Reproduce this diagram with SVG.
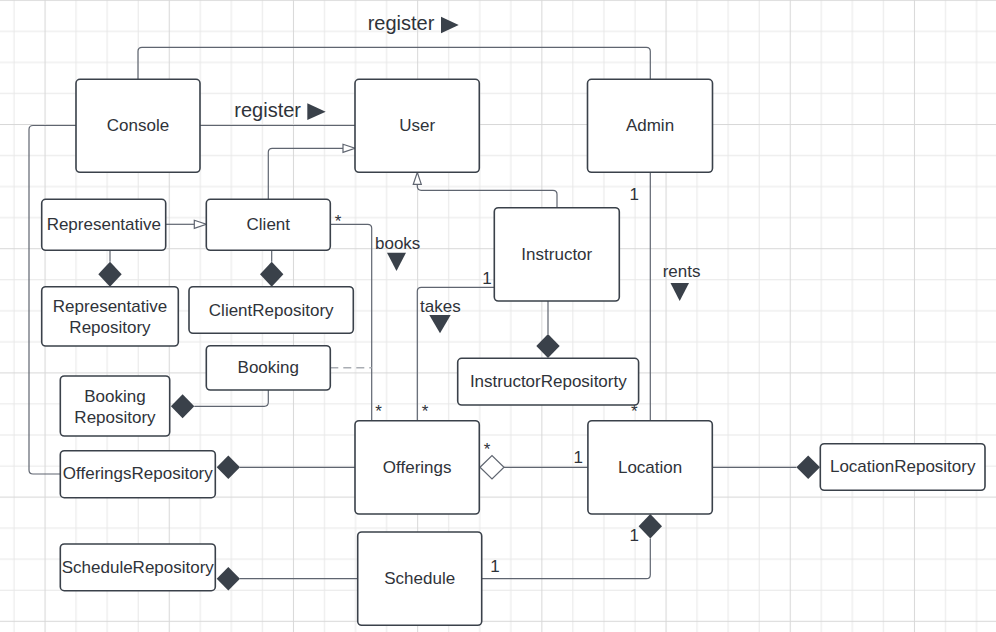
<svg xmlns="http://www.w3.org/2000/svg" width="996" height="632" viewBox="0 0 996 632">
<defs>
<pattern id="grid" x="44.55" y="-0.2" width="124.2" height="124.2" patternUnits="userSpaceOnUse">
<rect width="124.2" height="124.2" fill="#ffffff"/>
<g fill="#e8e8e8">
<rect x="31.05" y="0" width="1" height="124.2"/><rect x="62.1" y="0" width="1" height="124.2"/><rect x="93.15" y="0" width="1" height="124.2"/>
<rect x="0" y="31.05" width="124.2" height="1"/><rect x="0" y="62.1" width="124.2" height="1"/><rect x="0" y="93.15" width="124.2" height="1"/>
</g>
<g fill="#d8d8d8"><rect x="0" y="0" width="1" height="124.2"/><rect x="0" y="0" width="124.2" height="1"/></g>
</pattern>
<style>
.box{fill:#ffffff;stroke:#3a414a;stroke-width:1.6}
.lbl{font-family:"Liberation Sans",Arial,sans-serif;font-size:17px;fill:#2f333a;text-anchor:middle}
.big{font-family:"Liberation Sans",Arial,sans-serif;font-size:20px;fill:#2f333a}
.tag{font-family:"Liberation Sans",Arial,sans-serif;font-size:17px;fill:#2f333a}
.con{fill:none;stroke:#5f6570;stroke-width:1.2}
.dash{fill:none;stroke:#a9adb3;stroke-width:1.5;stroke-dasharray:8 5}
.dia{fill:#3a414a}
.hol{fill:#ffffff;stroke:#5f6570;stroke-width:1.2}
.tri{fill:#3a414a}
</style>
</defs>
<rect width="996" height="632" fill="url(#grid)"/>

<g id="connectors">
<path class="con" d="M138,79.3 V51.3 Q138,47.3 142,47.3 H646.3 Q650.3,47.3 650.3,51.3 V79.3"/>
<path class="con" d="M200,125.5 H355"/>
<path class="con" d="M76,125.5 H33 Q29,125.5 29,129.5 V470 Q29,474 33,474 H60.3"/>
<path class="con" d="M268.3,199.3 V152.3 Q268.3,148.3 272.3,148.3 H343"/>
<polygon class="hol" points="343,144.3 355,148.3 343,152.3"/>
<path class="con" d="M557,207.7 V194.3 Q557,190.3 553,190.3 H421.3 Q417.3,190.3 417.3,186.3 V184.3"/>
<polygon class="hol" points="413.3,184.3 417.3,172.3 421.3,184.3"/>
<path class="con" d="M165.7,224.3 H194.3"/>
<polygon class="hol" points="194.3,220.3 206.3,224.3 194.3,228.3"/>
<path class="con" d="M110,250.3 V261.7"/>
<polygon class="dia" points="110,261.7 121.7,274.2 110,286.7 98.3,274.2"/>
<path class="con" d="M271.7,250.3 V261.7"/>
<polygon class="dia" points="271.7,261.7 283.4,274.2 271.7,286.7 260,274.2"/>
<path class="con" d="M330.3,224.3 H367.7 Q371.7,224.3 371.7,228.3 V420.7"/>
<path class="dash" d="M330.3,367.7 H371.7"/>
<path class="con" d="M268.3,390 V402.3 Q268.3,406.3 264.3,406.3 H194.3"/>
<polygon class="dia" points="194.3,406.3 182.6,418.3 170.9,406.3 182.6,394.3"/>
<path class="con" d="M494.3,287.3 H421.3 Q417.3,287.3 417.3,291.3 V420.7"/>
<path class="con" d="M548,301 V334"/>
<polygon class="dia" points="548,334 559.7,346 548,358 536.3,346"/>
<path class="con" d="M650.3,172.3 V420.7"/>
<path class="con" d="M504,467.3 H587.9"/>
<polygon class="hol" points="480,467.3 492,455.6 504,467.3 492,479"/>
<path class="con" d="M240,467.3 H355"/>
<polygon class="dia" points="216.7,467.3 228.3,455.6 240,467.3 228.3,479"/>
<path class="con" d="M712.3,467.3 H796.4"/>
<polygon class="dia" points="796.4,467.3 808.2,455.6 820,467.3 808.2,479"/>
<path class="con" d="M240,578.7 H357.7"/>
<polygon class="dia" points="216.7,578.7 228.3,567 240,578.7 228.3,590.4"/>
<path class="con" d="M481.7,578.7 H646.3 Q650.3,578.7 650.3,574.7 V538.4"/>
<polygon class="dia" points="650.3,514 662,526.2 650.3,538.4 638.6,526.2"/>

<text class="big" x="367.7" y="29.5">register</text>
<polygon class="tri" points="441,16.7 458.7,25 441,33.3"/>
<text class="big" x="234.3" y="116.5">register</text>
<polygon class="tri" points="307.3,103.3 325.7,111.7 307.3,120"/>
<text class="tag" x="375" y="249">books</text>
<polygon class="tri" points="387,252.7 406,252.7 396.5,271"/>
<text class="tag" x="420" y="311.5">takes</text>
<polygon class="tri" points="429.3,315 450.7,315 440,333.3"/>
<text class="tag" x="662.7" y="277">rents</text>
<polygon class="tri" points="670.5,283 689,283 679.7,301"/>

<text class="lbl" x="338" y="227">*</text>
<text class="lbl" x="378.5" y="417">*</text>
<text class="lbl" x="425" y="417">*</text>
<text class="lbl" x="634.3" y="417">*</text>
<text class="lbl" x="487" y="455">*</text>
<text class="lbl" x="634.3" y="200">1</text>
<text class="lbl" x="487" y="284">1</text>
<text class="lbl" x="578.3" y="463">1</text>
<text class="lbl" x="634.3" y="541">1</text>
<text class="lbl" x="495" y="571.5">1</text>
</g>

<g id="console"><rect class="box" x="76" y="79.3" width="124" height="93" rx="4"/><text class="lbl" x="138" y="131">Console</text></g>
<g id="user"><rect class="box" x="355" y="79.3" width="124.3" height="93" rx="4"/><text class="lbl" x="417.2" y="131">User</text></g>
<g id="admin"><rect class="box" x="587.5" y="79.3" width="125" height="93" rx="4"/><text class="lbl" x="650" y="131">Admin</text></g>
<g id="representative"><rect class="box" x="41.7" y="199.3" width="124" height="51" rx="4"/><text class="lbl" x="103.8" y="230">Representative</text></g>
<g id="client"><rect class="box" x="206.3" y="199.3" width="124" height="51" rx="4"/><text class="lbl" x="268.3" y="230">Client</text></g>
<g id="representative-repository"><rect class="box" x="41.7" y="286.7" width="136.6" height="59.3" rx="4"/><text class="lbl" x="110" y="312">Representative</text><text class="lbl" x="110" y="333">Repository</text></g>
<g id="client-repository"><rect class="box" x="189" y="286.7" width="164.3" height="46.6" rx="4"/><text class="lbl" x="271.2" y="315.5">ClientRepository</text></g>
<g id="booking"><rect class="box" x="206.3" y="345.7" width="124" height="44.3" rx="4"/><text class="lbl" x="268.3" y="373">Booking</text></g>
<g id="booking-repository"><rect class="box" x="60.3" y="376" width="109.4" height="60" rx="4"/><text class="lbl" x="115" y="402">Booking</text><text class="lbl" x="115" y="423">Repository</text></g>
<g id="instructor"><rect class="box" x="494.3" y="207.7" width="125" height="93.3" rx="4"/><text class="lbl" x="556.8" y="259.5">Instructor</text></g>
<g id="instructor-repository"><rect class="box" x="457.7" y="358.3" width="180.9" height="46.7" rx="4"/><text class="lbl" x="548.3" y="387">InstructorRepositorty</text></g>
<g id="offerings-repository"><rect class="box" x="60.3" y="450.7" width="155" height="47" rx="4"/><text class="lbl" x="137.8" y="479">OfferingsRepository</text></g>
<g id="offerings"><rect class="box" x="355" y="420.7" width="124.3" height="93.3" rx="4"/><text class="lbl" x="417.2" y="472.5">Offerings</text></g>
<g id="location"><rect class="box" x="587.9" y="420.7" width="124.4" height="93.3" rx="4"/><text class="lbl" x="650.1" y="472.5">Location</text></g>
<g id="location-repository"><rect class="box" x="820.3" y="443.7" width="164.7" height="46.6" rx="4"/><text class="lbl" x="902.7" y="472">LocationRepository</text></g>
<g id="schedule-repository"><rect class="box" x="60.3" y="544" width="155" height="46.7" rx="4"/><text class="lbl" x="137.8" y="572.5">ScheduleRepository</text></g>
<g id="schedule"><rect class="box" x="357.7" y="532" width="124" height="93.3" rx="4"/><text class="lbl" x="419.7" y="584">Schedule</text></g>
</svg>
